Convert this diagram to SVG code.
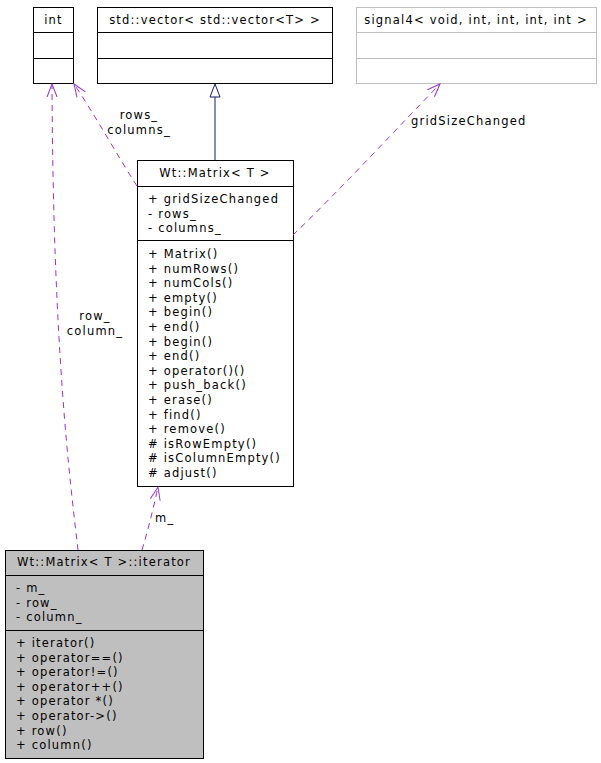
<svg xmlns="http://www.w3.org/2000/svg" width="601" height="763" viewBox="0 0 601 763">
<defs>
<style>
text{font-family:"DejaVu Sans","Liberation Sans",sans-serif;font-size:11.5px;letter-spacing:1.2px;fill:#000}
.t{text-anchor:middle}
.box{fill:#fff;stroke:#000;stroke-width:1}
.gbox{fill:#fff;stroke:#bfbfbf;stroke-width:1}
.cur{fill:#bfbfbf;stroke:#000;stroke-width:1}
.dep{fill:none;stroke:#9a32cd;stroke-width:1;stroke-dasharray:6,5}
.inh{fill:none;stroke:#191970;stroke-width:1}
</style>
<marker id="open" viewBox="0 0 14 12" refX="13" refY="6" markerWidth="14" markerHeight="12" markerUnits="userSpaceOnUse" orient="auto">
<path d="M0,1 L13,6 L0,11" fill="none" stroke="#9a32cd" stroke-width="1"/>
</marker>
</defs>
<g id="node-int">
<rect class="box" x="33.5" y="7.5" width="40" height="76"/>
<line x1="33.5" y1="32.5" x2="73.5" y2="32.5" stroke="#000"/>
<line x1="33.5" y1="58.5" x2="73.5" y2="58.5" stroke="#000"/>
<text class="t" x="53.5" y="24">int</text>
</g>
<g id="node-vector">
<rect class="box" x="97.5" y="7.5" width="235" height="76"/>
<line x1="97.5" y1="32.5" x2="332.5" y2="32.5" stroke="#000"/>
<line x1="97.5" y1="58.5" x2="332.5" y2="58.5" stroke="#000"/>
<text class="t" x="215" y="24">std::vector&lt; std::vector&lt;T&gt; &gt;</text>
</g>
<g id="node-signal4">
<rect class="gbox" x="356.5" y="7.5" width="240" height="76"/>
<line x1="356.5" y1="32.5" x2="596.5" y2="32.5" stroke="#bfbfbf"/>
<line x1="356.5" y1="58.5" x2="596.5" y2="58.5" stroke="#bfbfbf"/>
<text class="t" x="476" y="24">signal4&lt; void, int, int, int, int &gt;</text>
</g>
<g id="node-matrix">
<rect class="box" x="137.5" y="160.5" width="156" height="326"/>
<line x1="137.5" y1="186.5" x2="293.5" y2="186.5" stroke="#000"/>
<line x1="137.5" y1="240.5" x2="293.5" y2="240.5" stroke="#000"/>
<text class="t" x="215" y="177">Wt::Matrix&lt; T &gt;</text>
<text x="148" y="203">+ gridSizeChanged</text>
<text x="148" y="217.5">- rows_</text>
<text x="148" y="232">- columns_</text>
<text x="148" y="258">+ Matrix()</text>
<text x="148" y="272.6">+ numRows()</text>
<text x="148" y="287.2">+ numCols()</text>
<text x="148" y="301.8">+ empty()</text>
<text x="148" y="316.4">+ begin()</text>
<text x="148" y="331">+ end()</text>
<text x="148" y="345.6">+ begin()</text>
<text x="148" y="360.2">+ end()</text>
<text x="148" y="374.8">+ operator()()</text>
<text x="148" y="389.4">+ push_back()</text>
<text x="148" y="404">+ erase()</text>
<text x="148" y="418.6">+ find()</text>
<text x="148" y="433.2">+ remove()</text>
<text x="148" y="447.8"># isRowEmpty()</text>
<text x="148" y="462.4"># isColumnEmpty()</text>
<text x="148" y="477"># adjust()</text>
</g>
<g id="node-iterator">
<rect class="cur" x="5.5" y="550.5" width="198" height="208"/>
<line x1="5.5" y1="575.5" x2="203.5" y2="575.5" stroke="#000"/>
<line x1="5.5" y1="630.5" x2="203.5" y2="630.5" stroke="#000"/>
<text class="t" x="104" y="566">Wt::Matrix&lt; T &gt;::iterator</text>
<text x="16" y="592">- m_</text>
<text x="16" y="606.6">- row_</text>
<text x="16" y="621.2">- column_</text>
<text x="16" y="647">+ iterator()</text>
<text x="16" y="661.6">+ operator==()</text>
<text x="16" y="676.2">+ operator!=()</text>
<text x="16" y="690.8">+ operator++()</text>
<text x="16" y="705.4">+ operator *()</text>
<text x="16" y="720">+ operator-&gt;()</text>
<text x="16" y="734.6">+ row()</text>
<text x="16" y="749.2">+ column()</text>
</g>
<g id="connectors">
<path class="inh" d="M215,160 L215,97"/>
<path d="M215,84 L220,97 L210,97 Z" fill="#fff" stroke="#191970"/>
<path class="dep" d="M137,186 C120,160 95,115 74,84" marker-end="url(#open)"/>
<path class="dep" d="M293,235 C340,190 400,125 440,84" marker-end="url(#open)"/>
<path class="dep" d="M78,550 C70,480 53,350 52,84" marker-end="url(#open)"/>
<path class="dep" d="M142,550 C148,530 153,510 158,487" marker-end="url(#open)"/>
<text class="t" x="139" y="119">rows_</text>
<text class="t" x="139" y="134">columns_</text>
<text x="411" y="125">gridSizeChanged</text>
<text class="t" x="95" y="320">row_</text>
<text class="t" x="95" y="335">column_</text>
<text x="155" y="522">m_</text>
</g>
</svg>
